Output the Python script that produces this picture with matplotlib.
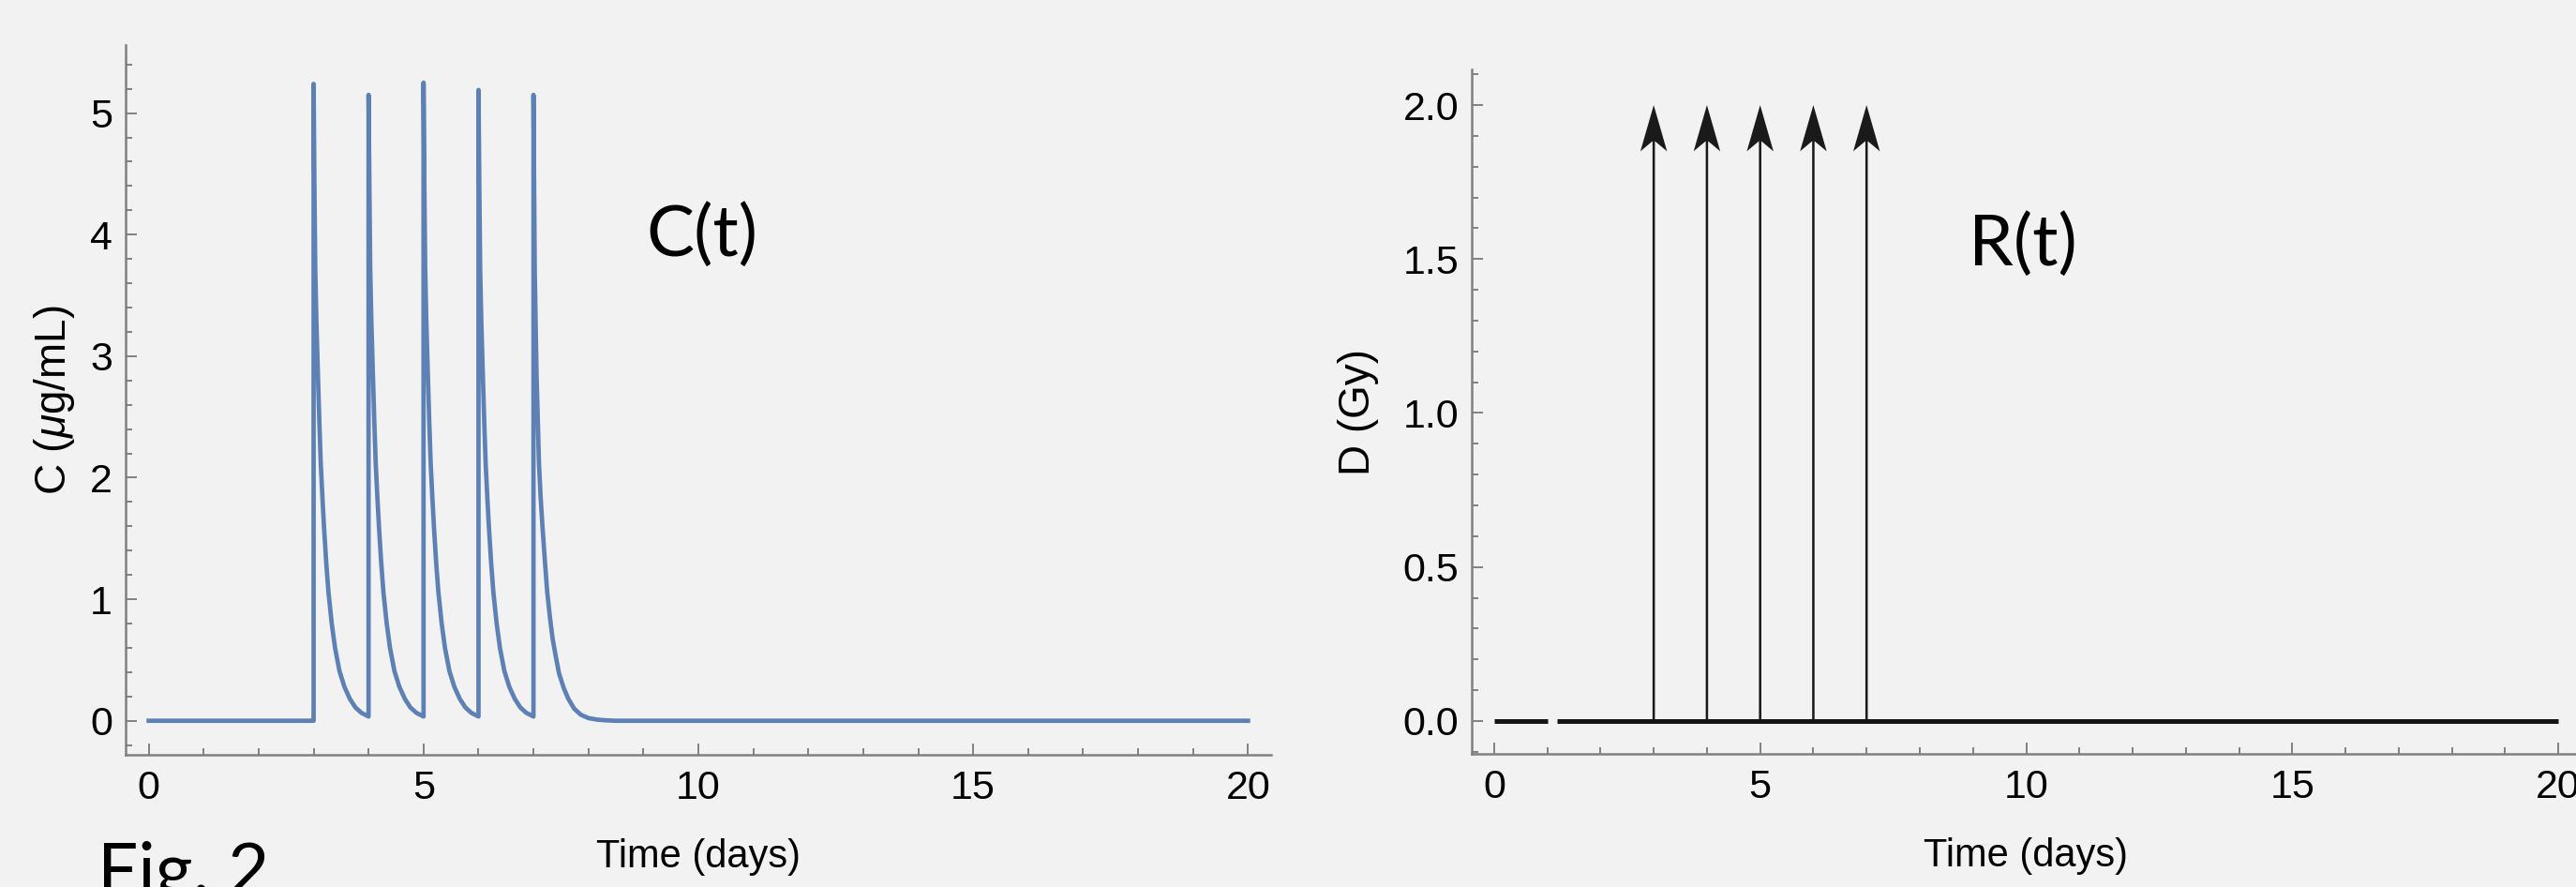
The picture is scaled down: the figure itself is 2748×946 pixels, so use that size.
import matplotlib
matplotlib.use("Agg")
import matplotlib.pyplot as plt
from matplotlib.ticker import MultipleLocator

# dose schedule (days) and values
dose_days = [3, 4, 5, 6, 7]
c_peaks = [5.24, 5.15, 5.25, 5.19, 5.15]          # ug/mL right after each dose
# drop after a dose, until the next dose (offset in days, value)
decay_dt = [0.015, 0.03, 0.05, 0.08, 0.105, 0.13, 0.16, 0.19, 0.23, 0.27,
            0.33, 0.39, 0.47, 0.56, 0.66, 0.76, 0.87, 1.0]
decay_c = [4.4, 3.72, 3.3, 2.83, 2.45, 2.12, 1.84, 1.59, 1.3, 1.06,
           0.80, 0.60, 0.41, 0.28, 0.18, 0.11, 0.065, 0.035]
# tail after the last dose
tail_dt = [0.012, 0.023, 0.04, 0.057, 0.08, 0.10, 0.13, 0.165, 0.21, 0.25,
           0.30, 0.35, 0.41, 0.465, 0.55, 0.635, 0.74, 0.86, 1.0, 1.15, 1.3, 1.5]
tail_c = [4.4, 3.72, 3.25, 2.83, 2.45, 2.12, 1.84, 1.59, 1.3, 1.06,
          0.85, 0.67, 0.52, 0.39, 0.27, 0.18, 0.10, 0.05, 0.022, 0.01, 0.004, 0.0]
t_end = 20

dose_gy = [2.0, 2.0, 2.0, 2.0, 2.0]
# zero line on the right panel (has a small gap near day 1)
zero_starts = [0.0, 1.18]
zero_ends = [1.0, 20.0]

bg = "#f2f2f2"
blue = "#5e81b5"
axis_col = "#808080"

plt.rcParams["font.family"] = ["Liberation Sans", "DejaVu Sans"]
plt.rcParams["mathtext.fontset"] = "custom"
plt.rcParams["mathtext.rm"] = "Liberation Sans"
plt.rcParams["mathtext.it"] = "Liberation Sans:italic"

W, H = 2748, 946
fig = plt.figure(figsize=(W / 100, H / 100), dpi=100, facecolor=bg)
ax1 = fig.add_axes([134 / W, 1 - 805 / H, 1222 / W, (805 - 48) / H])
ax2 = fig.add_axes([1570 / W, 1 - 804 / H, 1183 / W, (804 - 74) / H])

# build C(t) curve from the read points
t_c = [0.0]
c_vals = [0.0]
for i, (d, p) in enumerate(zip(dose_days, c_peaks)):
    t_c += [d, d]
    c_vals += [c_vals[-1], p]
    if i < len(dose_days) - 1:
        t_c += [d + dt for dt in decay_dt]
        c_vals += decay_c
    else:
        t_c += [d + dt for dt in tail_dt]
        c_vals += tail_c
t_c.append(t_end)
c_vals.append(0.0)

ax1.plot(t_c, c_vals, color=blue, lw=3.4)

# R(t): dose arrows
for s, e in zip(zero_starts, zero_ends):
    ax2.plot([s, e], [0, 0], color="#151515", lw=3.6, solid_capstyle="butt")
for d, g in zip(dose_days, dose_gy):
    ax2.arrow(d, 0, 0, g, width=0.045, head_width=0.5, head_length=0.15,
              length_includes_head=True, overhang=0.22, color="#1a1a1a", lw=0)

for ax in (ax1, ax2):
    ax.set_facecolor(bg)
    for sp in ("top", "right"):
        ax.spines[sp].set_visible(False)
    for sp in ("left", "bottom"):
        ax.spines[sp].set_color(axis_col)
        ax.spines[sp].set_linewidth(1.8)
    ax.set_xlim(-0.42, 20.42)
    ax.xaxis.set_major_locator(MultipleLocator(5))
    ax.xaxis.set_minor_locator(MultipleLocator(1))
    ax.tick_params(which="both", direction="in", color=axis_col, width=1.4,
                   labelcolor="black")
    ax.tick_params(which="major", length=8.5)
    ax.tick_params(which="minor", length=5)
    ax.tick_params(axis="x", pad=11.5, labelsize=31)
    ax.tick_params(axis="y", pad=10, labelsize=31)
    ax.set_xlabel("Time (days)", fontsize=30, labelpad=24)

ax1.set_ylim(-0.28, 5.56)
ax1.yaxis.set_major_locator(MultipleLocator(1))
ax1.yaxis.set_minor_locator(MultipleLocator(0.2))
ax1.set_ylabel(r"C ($\mu$g/mL)", fontsize=33, labelpad=10)

ax2.set_ylim(-0.107, 2.116)
ax2.yaxis.set_major_locator(MultipleLocator(0.5))
ax2.yaxis.set_minor_locator(MultipleLocator(0.1))
ax2.yaxis.set_major_formatter(lambda v, pos: f"{v:.1f}")
ax2.set_ylabel("D (Gy)", fontsize=33, labelpad=18)

big = dict(fontsize=55, family=["Lato", "DejaVu Sans"], va="baseline", color="black")
fig.text(689 / W, 1 - 273 / H, "C(t)", **big)
fig.text(2100 / W, 1 - 283 / H, "R(t)", **big)
fig.text(104 / W, 1 - 953 / H, "Fig. 2", **big)

fig.savefig("out.png", dpi=100, facecolor=bg)
